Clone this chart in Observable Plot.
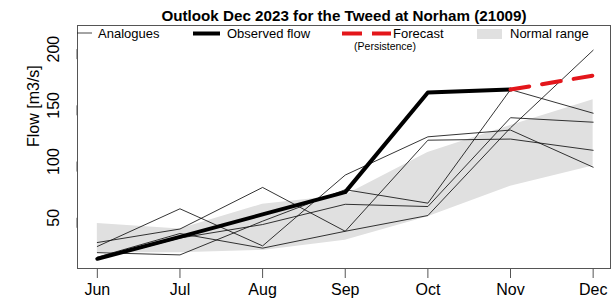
<!DOCTYPE html>
<html>
<head>
<meta charset="utf-8">
<script src="https://cdn.jsdelivr.net/npm/d3@7"></script>
<script src="https://cdn.jsdelivr.net/npm/@observablehq/plot@0.6"></script>
<style>
  html, body { margin: 0; padding: 0; background: #fff; }
  svg { display: block; font-family: "Liberation Sans", Arial, sans-serif; }
</style>
</head>
<body>
<div id="chart"></div>
<script>
// ---- data ----
const months = ["Jun", "Jul", "Aug", "Sep", "Oct", "Nov", "Dec"];
const normalLow  = [19, 19, 21, 30, 51, 78, 96];
const normalHigh = [45, 40, 62, 70, 108, 132, 155];
const analogue1 = [19, 17, 47, 75, 63, 164, 143];
const analogue2 = [13, 32, 44, 62, 60, 139, 135];
const analogue3 = [15, 36, 23, 38, 52, 130, 199];
const analogue4 = [24.5, 58, 25, 88, 122, 128, 95];
const analogue5 = [28, 40, 77, 38, 119, 120, 110];
const observed = [13.5, 33, 53, 72.8, 161.5, 164];
const forecastMonths = ["Nov", "Dec"];
const forecast = [164, 176.5];
const yTicks = [50, 100, 150, 200];
const title = "Outlook Dec 2023 for the Tweed at Norham (21009)";
const yLabel = "Flow [m3/s]";

// ---- tables ----
const idx = m => months.indexOf(m);
const normal = months.map((m, i) => ({i, lo: normalLow[i], hi: normalHigh[i]}));
const analogues = [analogue1, analogue2, analogue3, analogue4, analogue5];
const anal = analogues.flatMap((a, k) => a.map((v, i) => ({name: "A" + k, i, v})));
const obs = observed.map((v, i) => ({i, v}));
const fc = forecast.map((v, j) => ({i: idx(forecastMonths[j]), v}));

const chart = Plot.plot({
  width: 612, height: 303,
  marginLeft: 77, marginRight: 2, marginTop: 25, marginBottom: 35,
  style: {fontFamily: "'Liberation Sans', Arial, sans-serif", color: "#000", background: "#fff"},
  x: {domain: [-0.24, 6.21]},
  y: {domain: [4.9, 221]},
  marks: [
    Plot.areaY(normal, {x: "i", y1: "lo", y2: "hi", fill: "#e0e0e0", curve: "linear"}),
    Plot.line(anal, {x: "i", y: "v", z: "name", stroke: "#111", strokeWidth: 0.85}),
    Plot.line(obs, {x: "i", y: "v", stroke: "#000", strokeWidth: 4}),
    Plot.line(fc, {x: "i", y: "v", stroke: "#e3161b", strokeWidth: 4, strokeDasharray: "19,13"}),
    Plot.frame({stroke: "#555", strokeWidth: 1}),
    Plot.axisX({ticks: months.map((m, i) => i), tickFormat: i => months[i], tickSize: 10, tickPadding: 5,
      fontSize: 16, label: null, stroke: "#555"}),
    Plot.axisY({ticks: yTicks, tickSize: 10, tickPadding: 14, rotate: -90, textAnchor: "middle",
      fontSize: 16, label: null, stroke: "#555"}),
    Plot.text([yLabel], {frameAnchor: "left", dx: -44, rotate: -90, fontSize: 16, fill: "#000"})
  ]
});
document.getElementById("chart").appendChild(chart);

// ---- title and legend ----
const svg = d3.select(chart);
svg.append("text").attr("x", 344).attr("y", 21).attr("text-anchor", "middle")
  .attr("font-weight", "bold").attr("font-size", 15.2).attr("fill", "#000").text(title);
const lg = svg.append("g").attr("font-size", 13).attr("fill", "#000").attr("text-anchor", "start");
lg.append("line").attr("x1", 77).attr("x2", 92).attr("y1", 33).attr("y2", 33)
  .attr("stroke", "#1a1a1a").attr("stroke-width", 0.8);
lg.append("text").attr("x", 98).attr("y", 38).text("Analogues");
lg.append("line").attr("x1", 193).attr("x2", 220).attr("y1", 33.5).attr("y2", 33.5)
  .attr("stroke", "#000").attr("stroke-width", 4);
lg.append("text").attr("x", 227).attr("y", 38).text("Observed flow");
lg.append("line").attr("x1", 342).attr("x2", 391).attr("y1", 33.5).attr("y2", 33.5)
  .attr("stroke", "#e3161b").attr("stroke-width", 4).attr("stroke-dasharray", "20,10");
lg.append("text").attr("x", 393).attr("y", 38).text("Forecast");
lg.append("text").attr("x", 385).attr("y", 50).attr("text-anchor", "middle")
  .attr("font-size", 10.5).text("(Persistence)");
lg.append("rect").attr("x", 477).attr("y", 29).attr("width", 25).attr("height", 10).attr("fill", "#e0e0e0");
lg.append("text").attr("x", 510).attr("y", 38).text("Normal range");
</script>
</body>
</html>
